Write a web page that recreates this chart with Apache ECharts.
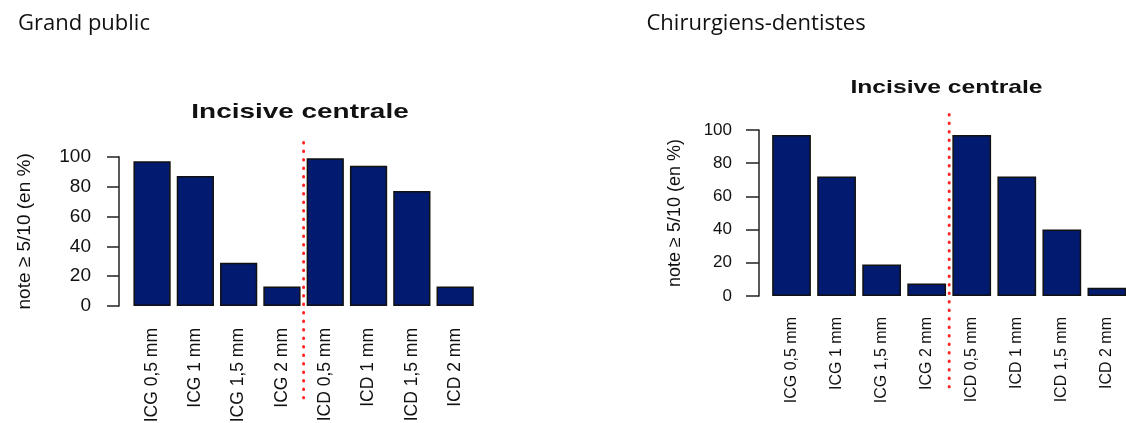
<!DOCTYPE html>
<html>
<head>
<meta charset="utf-8">
<script src="https://cdn.jsdelivr.net/npm/echarts@6/dist/echarts.min.js"></script>
<style>
  html, body { margin: 0; padding: 0; background: #ffffff; }
  #chart { width: 1126px; height: 423px; }
</style>
</head>
<body>
<div id="chart"></div>
<script>
// Categories: ICG = incisive centrale gauche, ICD = incisive centrale droite
const categories = ['ICG 0,5 mm', 'ICG 1 mm', 'ICG 1,5 mm', 'ICG 2 mm',
                    'ICD 0,5 mm', 'ICD 1 mm', 'ICD 1,5 mm', 'ICD 2 mm'];

// Share of ratings >= 5/10 (%)
const grandPublicValues = [97, 87, 29, 13, 99, 94, 77, 13];
const dentistesValues   = [97, 72, 19, 7.5, 97, 72, 40, 5];

// Y axis ticks
const yTicks = [0, 20, 40, 60, 80, 100];

// Texts
const panelTitles = ['Grand public', 'Chirurgiens-dentistes'];
const plotTitle = 'Incisive centrale';
const yAxisTitle = 'note \u2265 5/10 (en %)';

// Index where the ICD group starts (dotted separator)
const groupBoundary = 4;

const FONT = '"Liberation Sans", Arial, sans-serif';
const BAR_FILL = '#021b70';
const INK = '#111111';

// Layout of the two panels
const panels = [
  { values: grandPublicValues, left: 130.4, width: 346.4, top: 156.7, height: 149.3,
    tickFont: 19, catFont: 17.5, nameFont: 19, yOffset: 11.4, nameGap: 85,
    labelMargin: 28, catMargin: 22, tickLen: 12,
    sepTop: 135, sepHeight: 263, titleX: 300, titleY: 112.5, titleSize: 21, titleScale: 1.33 },
  { values: dentistesValues, left: 769, width: 360.4, top: 130, height: 166,
    tickFont: 17, catFont: 16, nameFont: 18, yOffset: 10, nameGap: 75,
    labelMargin: 27, catMargin: 21, tickLen: 13,
    sepTop: 108, sepHeight: 279, titleX: 946.5, titleY: 87.5, titleSize: 19, titleScale: 1.3 }
];

const grid = [], xAxis = [], yAxis = [], series = [], graphic = [];

panels.forEach((p) => {
  // Bar plot grid (fixed box, labels may extend freely)
  grid.push({ left: p.left, width: p.width, top: p.top, height: p.height,
              containLabel: false, outerBoundsMode: 'none' });
  const gBar = grid.length - 1;
  xAxis.push({
    type: 'category', gridIndex: gBar, data: categories,
    axisLine: { show: false }, axisTick: { show: false },
    axisLabel: { rotate: 90, margin: p.catMargin, fontSize: p.catFont, fontFamily: FONT,
                 color: INK, interval: 0, padding: [7, 0, 0, 0] }
  });
  yAxis.push({
    type: 'value', gridIndex: gBar,
    min: yTicks[0], max: yTicks[yTicks.length - 1], interval: yTicks[1] - yTicks[0],
    offset: p.yOffset,
    axisLine: { show: true, lineStyle: { color: '#222', width: 1.5 } },
    axisTick: { show: true, length: p.tickLen, lineStyle: { color: '#222', width: 1.5 } },
    axisLabel: { margin: p.labelMargin, fontSize: p.tickFont, fontFamily: FONT, color: INK },
    splitLine: { show: false },
    name: yAxisTitle, nameLocation: 'middle', nameGap: p.nameGap, nameRotate: 90,
    nameTextStyle: { fontSize: p.nameFont, fontFamily: FONT, color: INK }
  });
  series.push({
    type: 'bar', xAxisIndex: xAxis.length - 1, yAxisIndex: yAxis.length - 1,
    data: p.values, barCategoryGap: '14%',
    itemStyle: { color: BAR_FILL, borderColor: '#111', borderWidth: 1.5 },
    silent: true, animation: false
  });

  // Overlay grid for the dotted separator between ICG and ICD
  grid.push({ left: p.left, width: p.width, top: p.sepTop, height: p.sepHeight,
              containLabel: false, outerBoundsMode: 'none' });
  xAxis.push({ type: 'value', gridIndex: grid.length - 1, min: 0, max: categories.length, show: false });
  yAxis.push({ type: 'value', gridIndex: grid.length - 1, min: 0, max: 1, show: false });
  series.push({
    type: 'line', xAxisIndex: xAxis.length - 1, yAxisIndex: yAxis.length - 1,
    data: [[groupBoundary, 0], [groupBoundary, 1]], symbol: 'none',
    lineStyle: { color: '#ff2424', width: 3, type: [0.5, 8], cap: 'round' },
    silent: true, animation: false, z: 5
  });

  // Plot title
  graphic.push({
    type: 'text', x: p.titleX, y: p.titleY, scaleX: p.titleScale,
    style: { text: plotTitle, fontSize: p.titleSize, fontWeight: 'bold', fontFamily: FONT,
             fill: '#111', align: 'center', verticalAlign: 'middle' }
  });
});

// Panel headings
graphic.push({
  type: 'text', x: 18, y: 24,
  style: { text: panelTitles[0], fontSize: 22, fontFamily: '"Open Sans", sans-serif', fill: '#111', align: 'left', verticalAlign: 'middle' }
});
graphic.push({
  type: 'text', x: 646.5, y: 24,
  style: { text: panelTitles[1], fontSize: 22, fontFamily: '"Open Sans", sans-serif', fill: '#111', align: 'left', verticalAlign: 'middle' }
});

const chart = echarts.init(document.getElementById('chart'), null, { renderer: 'canvas' });
chart.setOption({
  animation: false,
  backgroundColor: '#ffffff',
  grid, xAxis, yAxis, series, graphic
});
</script>
</body>
</html>
